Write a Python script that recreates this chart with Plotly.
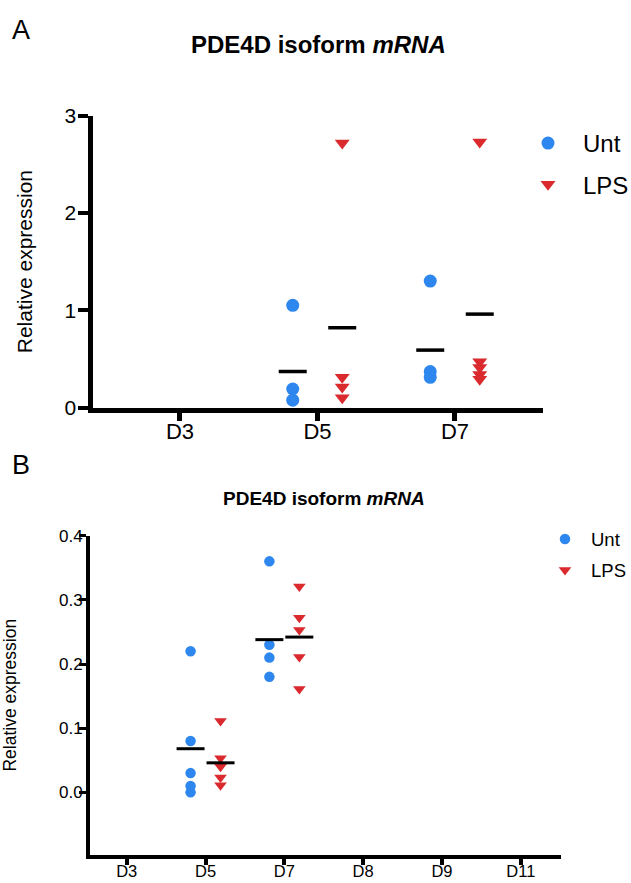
import plotly.graph_objects as go

# ---------------- data ----------------
# Panel A
cats_a = ["D3", "D5", "D7"]
unt_a_day = ["D5", "D5", "D5", "D7", "D7", "D7"]
unt_a_val = [1.05, 0.19, 0.075, 1.30, 0.37, 0.31]
lps_a_day = ["D5", "D5", "D5", "D5", "D7", "D7", "D7", "D7", "D7"]
lps_a_val = [2.72, 0.31, 0.21, 0.10, 2.73, 0.47, 0.41, 0.34, 0.29]
mean_a_day = ["D5", "D7"]
unt_a_mean = [0.37, 0.59]
lps_a_mean = [0.82, 0.96]

# Panel B
cats_b = ["D3", "D5", "D7", "D8", "D9", "D11"]
unt_b_day = ["D5", "D5", "D5", "D5", "D5", "D7", "D7", "D7", "D7"]
unt_b_val = [0.22, 0.08, 0.03, 0.01, 0.00, 0.36, 0.23, 0.21, 0.18]
lps_b_day = ["D5", "D5", "D5", "D5", "D5", "D7", "D7", "D7", "D7", "D7"]
lps_b_val = [0.111, 0.053, 0.040, 0.023, 0.011, 0.321, 0.272, 0.253, 0.211, 0.161]
mean_b_day = ["D5", "D7"]
unt_b_mean = [0.068, 0.238]
lps_b_mean = [0.046, 0.242]

title_text = "<b>PDE4D isoform <i>mRNA</i></b>"
ytitle = "Relative expression"

# ---------------- style ----------------
BLUE = "rgb(45,135,238)"
RED = "rgb(218,42,45)"
FONT = "Liberation Sans, Arial, Helvetica, sans-serif"
W, H = 631, 883


def px_x(v):
    return v / W


def px_y(v):
    return 1 - v / H


def pos(days, cats, off):
    return [cats.index(d) + off for d in days]


fig = go.Figure()

# Panel A
OFF_A = 0.18
fig.add_trace(go.Scatter(x=pos(unt_a_day, cats_a, -OFF_A), y=unt_a_val, mode="markers",
                         name="Unt", legendgroup="a1", legend="legend",
                         marker=dict(symbol="circle", size=13, color=BLUE),
                         xaxis="x", yaxis="y", cliponaxis=False))
fig.add_trace(go.Scatter(x=pos(lps_a_day, cats_a, OFF_A), y=lps_a_val, mode="markers",
                         name="LPS", legendgroup="a2", legend="legend",
                         marker=dict(symbol="triangle-down", size=13, color=RED),
                         xaxis="x", yaxis="y", cliponaxis=False))
fig.add_trace(go.Scatter(x=pos(mean_a_day, cats_a, -OFF_A) + pos(mean_a_day, cats_a, OFF_A),
                         y=unt_a_mean + lps_a_mean, mode="markers", showlegend=False,
                         marker=dict(symbol="line-ew", size=20, line=dict(width=3.5, color="black")),
                         xaxis="x", yaxis="y", cliponaxis=False))

# Panel B
OFF_B = 0.19
fig.add_trace(go.Scatter(x=pos(unt_b_day, cats_b, -OFF_B), y=unt_b_val, mode="markers",
                         name="Unt", legendgroup="b1", legend="legend2",
                         marker=dict(symbol="circle", size=10.5, color=BLUE),
                         xaxis="x2", yaxis="y2", cliponaxis=False))
fig.add_trace(go.Scatter(x=pos(lps_b_day, cats_b, OFF_B), y=lps_b_val, mode="markers",
                         name="LPS", legendgroup="b2", legend="legend2",
                         marker=dict(symbol="triangle-down", size=11, color=RED),
                         xaxis="x2", yaxis="y2", cliponaxis=False))
fig.add_trace(go.Scatter(x=pos(mean_b_day, cats_b, -OFF_B) + pos(mean_b_day, cats_b, OFF_B),
                         y=unt_b_mean + lps_b_mean, mode="markers", showlegend=False,
                         marker=dict(symbol="line-ew", size=20, line=dict(width=3, color="black")),
                         xaxis="x2", yaxis="y2", cliponaxis=False))


def ax_common(lw, tl, tw, fs, so):
    return dict(showline=True, linecolor="black", linewidth=lw, ticks="outside",
                ticklen=tl, tickwidth=tw, tickcolor="black", showgrid=False,
                zeroline=False, tickfont=dict(size=fs, color="black", family=FONT),
                fixedrange=True, automargin=False, ticklabelstandoff=so)


fig.update_layout(
    template="none",
    width=W, height=H,
    margin=dict(l=0, r=0, t=0, b=0, pad=0, autoexpand=False),
    paper_bgcolor="white", plot_bgcolor="white",
    font=dict(family=FONT, color="black"),
    xaxis=dict(domain=[px_x(92.5), px_x(543)], range=[-0.636, 2.64], anchor="y",
               tickmode="array", tickvals=list(range(len(cats_a))), ticktext=cats_a,
               **ax_common(5, 8, 5, 22, -8)),
    yaxis=dict(domain=[px_y(407.5), px_y(115.7)], range=[0, 3], anchor="x",
               tickmode="array", tickvals=[0, 1, 2, 3], ticktext=["0", "1", "2", "3"],
               title=dict(text=ytitle, font=dict(size=21), standoff=28),
               **ax_common(5, 10, 3.5, 21, -3)),
    xaxis2=dict(domain=[px_x(90), px_x(561)], range=[-0.466, 5.51], anchor="y2",
                tickmode="array", tickvals=list(range(len(cats_b))), ticktext=cats_b,
                **ax_common(4, 6, 4, 16.5, -8)),
    yaxis2=dict(domain=[px_y(854.7), px_y(535.7)], range=[-0.0972, 0.4], anchor="x2",
                tickmode="array", tickvals=[0, 0.1, 0.2, 0.3, 0.4],
                ticktext=["0.0", "0.1", "0.2", "0.3", "0.4"],
                title=dict(text=ytitle, font=dict(size=17.5), standoff=39),
                **ax_common(4, 7, 3, 17, -7)),
    legend=dict(x=px_x(513), xanchor="left", y=px_y(121), yanchor="top",
                font=dict(size=24, color="black"), itemwidth=60,
                traceorder="grouped", tracegroupgap=7, bgcolor="rgba(0,0,0,0)"),
    legend2=dict(x=px_x(539), xanchor="left", y=px_y(520.5), yanchor="top",
                 font=dict(size=18.5, color="black"), itemwidth=42,
                 traceorder="grouped", tracegroupgap=4, bgcolor="rgba(0,0,0,0)"),
    annotations=[
        dict(text="A", x=px_x(21), y=px_y(30), xref="paper", yref="paper",
             showarrow=False, font=dict(size=27), xanchor="center", yanchor="middle"),
        dict(text=title_text, x=px_x(318), y=px_y(44), xref="paper", yref="paper",
             showarrow=False, font=dict(size=24), xanchor="center", yanchor="middle"),
        dict(text="B", x=px_x(21), y=px_y(465), xref="paper", yref="paper",
             showarrow=False, font=dict(size=27), xanchor="center", yanchor="middle"),
        dict(text=title_text, x=px_x(324), y=px_y(498), xref="paper", yref="paper",
             showarrow=False, font=dict(size=19), xanchor="center", yanchor="middle"),
    ],
    showlegend=True,
)

fig.write_html("out.html", config={"displayModeBar": False},
               post_script="document.body.style.margin='0';")
